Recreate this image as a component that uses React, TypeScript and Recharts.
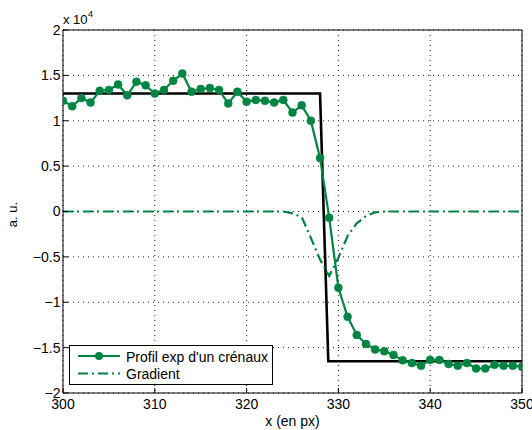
import React from 'react';
import { LineChart, Line, XAxis, YAxis, CartesianGrid, Legend, Label } from 'recharts';

const xValues = [
  300, 301, 302, 303, 304, 305, 306, 307, 308, 309,
  310, 311, 312, 313, 314, 315, 316, 317, 318, 319,
  320, 321, 322, 323, 324, 325, 326, 327, 328, 329,
  330, 331, 332, 333, 334, 335, 336, 337, 338, 339,
  340, 341, 342, 343, 344, 345, 346, 347, 348, 349, 350,
];

// values in units of 10^4
const profilValues = [
  1.22, 1.16, 1.25, 1.20, 1.33, 1.34, 1.40, 1.28, 1.43, 1.39,
  1.30, 1.34, 1.44, 1.52, 1.32, 1.35, 1.36, 1.34, 1.19, 1.32,
  1.21, 1.23, 1.22, 1.20, 1.23, 1.09, 1.17, 1.00, 0.59, -0.07,
  -0.84, -1.16, -1.36, -1.46, -1.52, -1.54, -1.58, -1.64, -1.67, -1.70,
  -1.635, -1.635, -1.68, -1.70, -1.67, -1.73, -1.73, -1.69, -1.70, -1.70, -1.71,
];

const gradientValues = [
  0, 0, 0, 0, 0, 0, 0, 0, 0, 0,
  0, 0, 0, 0, 0, 0, 0, 0, 0, 0,
  0, 0, 0, 0, 0, -0.02, -0.06, -0.29, -0.53, -0.71,
  -0.51, -0.27, -0.13, -0.05, -0.01, 0, 0, 0, 0, 0,
  0, 0, 0, 0, 0, 0, 0, 0, 0, 0, 0,
];

const stepX = [300, 328, 328.9, 350];
const stepValues = [1.3, 1.3, -1.65, -1.65];

const xTicks = [300, 310, 320, 330, 340, 350];
const yTicks = [-2, -1.5, -1, -0.5, 0, 0.5, 1, 1.5, 2];

const profilData = xValues.map((x, i) => ({ x, y: profilValues[i] }));
const gradientData = xValues.map((x, i) => ({ x, y: gradientValues[i] }));
const stepData = stepX.map((x, i) => ({ x, y: stepValues[i] }));

const GREEN = '#008442';
const FONT = '"Liberation Sans", Arial, Helvetica, sans-serif';
const DASHDOT = '10 4 2 4';

const fmtY = (v: number) => (v < 0 ? '\u2212' + String(Math.abs(v)) : String(v));

const LegendBox = () => (
  <svg width={206} height={42} style={{ display: 'block', overflow: 'visible' }}>
    <rect x={0.5} y={0.5} width={203} height={39} fill="#fff" stroke="#000" strokeWidth={1} />
    <line x1={9} y1={11} x2={51} y2={11} stroke={GREEN} strokeWidth={2.2} />
    <circle cx={30} cy={11} r={4} fill={GREEN} />
    <text x={57} y={16.5} fontFamily={FONT} fontSize={14} fill="#000">Profil exp d'un crénaux</text>
    <line x1={9} y1={28.5} x2={51} y2={28.5} stroke={GREEN} strokeWidth={2.2} strokeDasharray={DASHDOT} />
    <text x={57} y={34} fontFamily={FONT} fontSize={14} fill="#000">Gradient</text>
  </svg>
);

export default function App() {
  return (
    <div style={{ position: 'absolute', left: 0, top: 0, width: 532, height: 430, background: '#fff' }}>
      <LineChart
        width={532}
        height={430}
        margin={{ top: 29, right: 9, left: 0, bottom: 0 }}
        style={{ fontFamily: FONT }}
      >
        <CartesianGrid
          stroke="#222"
          strokeDasharray="1 4"
          strokeWidth={1}
          horizontalValues={yTicks}
          verticalValues={xTicks}
        />
        <XAxis
          dataKey="x"
          type="number"
          domain={[300, 350]}
          ticks={xTicks}
          height={37}
          tickSize={-5}
          tickMargin={11}
          axisLine={{ stroke: '#000', strokeWidth: 1 }}
          tickLine={{ stroke: '#000' }}
          tick={{ fill: '#000', fontSize: 14, fontFamily: FONT }}
          interval={0}
          allowDataOverflow
        >
          <Label value="x (en px)" position="insideBottom" offset={4} fill="#000" fontSize={14} fontFamily={FONT} />
        </XAxis>
        <XAxis
          xAxisId="top"
          orientation="top"
          dataKey="x"
          type="number"
          domain={[300, 350]}
          ticks={xTicks}
          height={1}
          tickSize={-5}
          tick={false}
          axisLine={{ stroke: '#000', strokeWidth: 1 }}
          tickLine={{ stroke: '#000' }}
          interval={0}
          allowDataOverflow
        />
        <YAxis
          type="number"
          domain={[-2, 2]}
          ticks={yTicks}
          width={63}
          tickSize={-5}
          tickMargin={7.5}
          tickFormatter={fmtY}
          axisLine={{ stroke: '#000', strokeWidth: 1 }}
          tickLine={{ stroke: '#000' }}
          tick={{ fill: '#000', fontSize: 14, fontFamily: FONT }}
          interval={0}
          allowDataOverflow
        >
          <Label
            content={(props: any) => {
              const vb = props.viewBox || { x: 0, y: 30, width: 63, height: 363 };
              const cx = vb.x + 17;
              const cy = vb.y + vb.height / 2 + 3;
              const tx = vb.x + vb.width;
              const ty = vb.y;
              return (
                <g>
                  <text
                    x={cx}
                    y={cy}
                    transform={`rotate(-90 ${cx} ${cy})`}
                    textAnchor="middle"
                    fontFamily={FONT}
                    fontSize={13}
                    fill="#000"
                  >
                    a. u.
                  </text>
                  <text x={tx} y={ty - 6} fontFamily={FONT} fontSize={13} fill="#000">x 10</text>
                  <text x={tx + 25} y={ty - 13} fontFamily={FONT} fontSize={9} fill="#000">4</text>
                </g>
              );
            }}
          />
        </YAxis>
        <YAxis
          yAxisId="right"
          orientation="right"
          type="number"
          domain={[-2, 2]}
          ticks={yTicks}
          width={1}
          tickSize={-5}
          tick={false}
          axisLine={{ stroke: '#000', strokeWidth: 1 }}
          tickLine={{ stroke: '#000' }}
          interval={0}
          allowDataOverflow
        />
        <Legend
          layout="horizontal"
          verticalAlign="middle"
          align="center"
          content={() => <LegendBox />}
          wrapperStyle={{ position: 'absolute', left: 69, top: 345, width: 206, height: 42 }}
        />
        <Line
          data={stepData}
          dataKey="y"
          type="linear"
          stroke="#000"
          strokeWidth={2.6}
          dot={false}
          activeDot={false}
          isAnimationActive={false}
          legendType="none"
        />
        <Line
          data={gradientData}
          dataKey="y"
          type="linear"
          stroke={GREEN}
          strokeWidth={2.2}
          strokeDasharray={DASHDOT}
          dot={false}
          activeDot={false}
          isAnimationActive={false}
        />
        <Line
          data={profilData}
          dataKey="y"
          type="linear"
          stroke={GREEN}
          strokeWidth={2.2}
          dot={{ r: 4, fill: GREEN, stroke: GREEN, strokeWidth: 0.5 }}
          activeDot={false}
          isAnimationActive={false}
        />
      </LineChart>
    </div>
  );
}
